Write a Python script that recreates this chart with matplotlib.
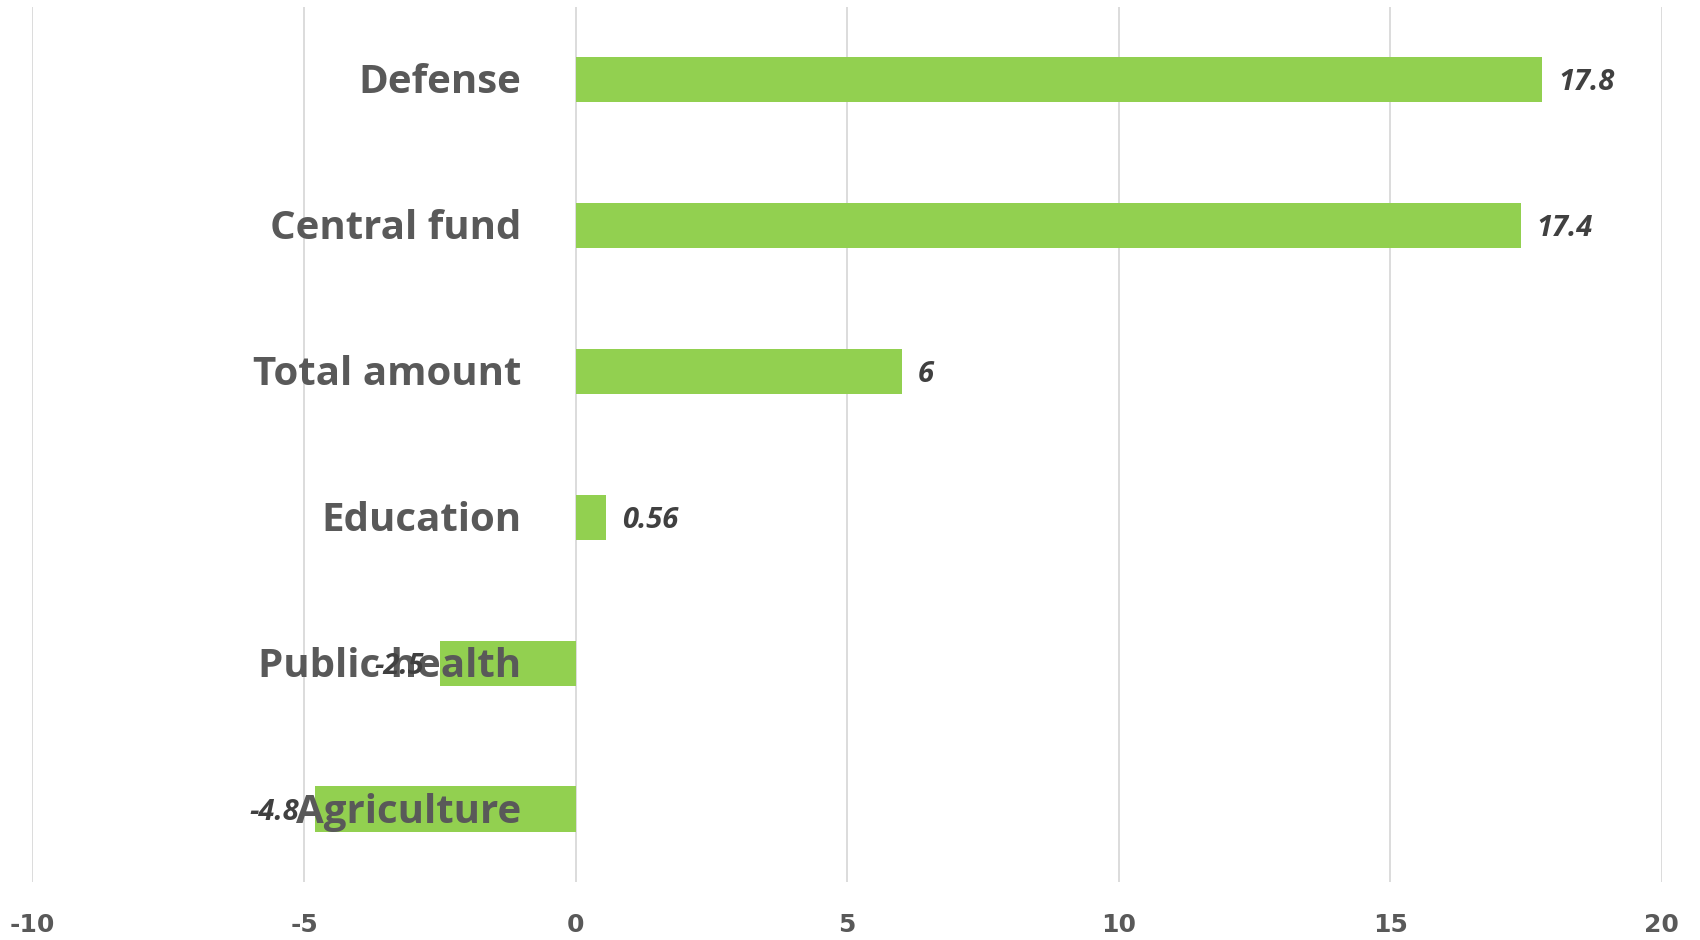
import matplotlib.pyplot as plt
from matplotlib.transforms import offset_copy

categories = ["Defense", "Central fund", "Total amount", "Education", "Public health", "Agriculture"]
values = [17.8, 17.4, 6, 0.56, -2.5, -4.8]
value_labels = ["17.8", "17.4", "6", "0.56", "-2.5", "-4.8"]
x_ticks = [-10, -5, 0, 5, 10, 15, 20]

BAR_COLOUR = "#92D050"
TEXT_GREY = "#595959"
VALUE_GREY = "#404040"

fig = plt.figure(figsize=(17, 9.4), dpi=100)
ax = fig.add_axes([0.0191, 0.0617, 0.9585, 0.931])

pos = list(range(len(categories)))
ax.barh(pos, values, height=0.31, color=BAR_COLOUR, zorder=2)
ax.set_ylim(len(categories) - 0.5, -0.5)
ax.set_xlim(-10, 20)

ax.set_xticks(x_ticks)
ax.set_xticklabels([str(t) for t in x_ticks], fontsize=18, fontweight="bold",
                   color=TEXT_GREY, family="Liberation Sans Narrow")
ax.tick_params(axis="x", length=0, pad=22)
ax.set_yticks([])
ax.grid(axis="x", color="#D9D9D9", linewidth=1.3, zorder=0)
for side in ax.spines.values():
    side.set_visible(False)

# category names sit just left of the zero line, whatever the sign of the bar
name_tf = offset_copy(ax.transData, fig=fig, x=-54, y=-3, units="dots")
for p, name in zip(pos, categories):
    ax.text(0, p, name, transform=name_tf, ha="right", va="center",
            fontsize=29, fontweight="bold", color=TEXT_GREY, zorder=3,
            family="Open Sans")

for p, v, lab in zip(pos, values, value_labels):
    off = 16 if v >= 0 else -16
    tf = offset_copy(ax.transData, fig=fig, x=off, y=-3, units="dots")
    ax.text(v, p, lab, transform=tf, ha="left" if v >= 0 else "right",
            va="center", fontsize=21, fontweight="bold", style="italic",
            color=VALUE_GREY, zorder=4, family="Open Sans")

fig.savefig("out.png")
